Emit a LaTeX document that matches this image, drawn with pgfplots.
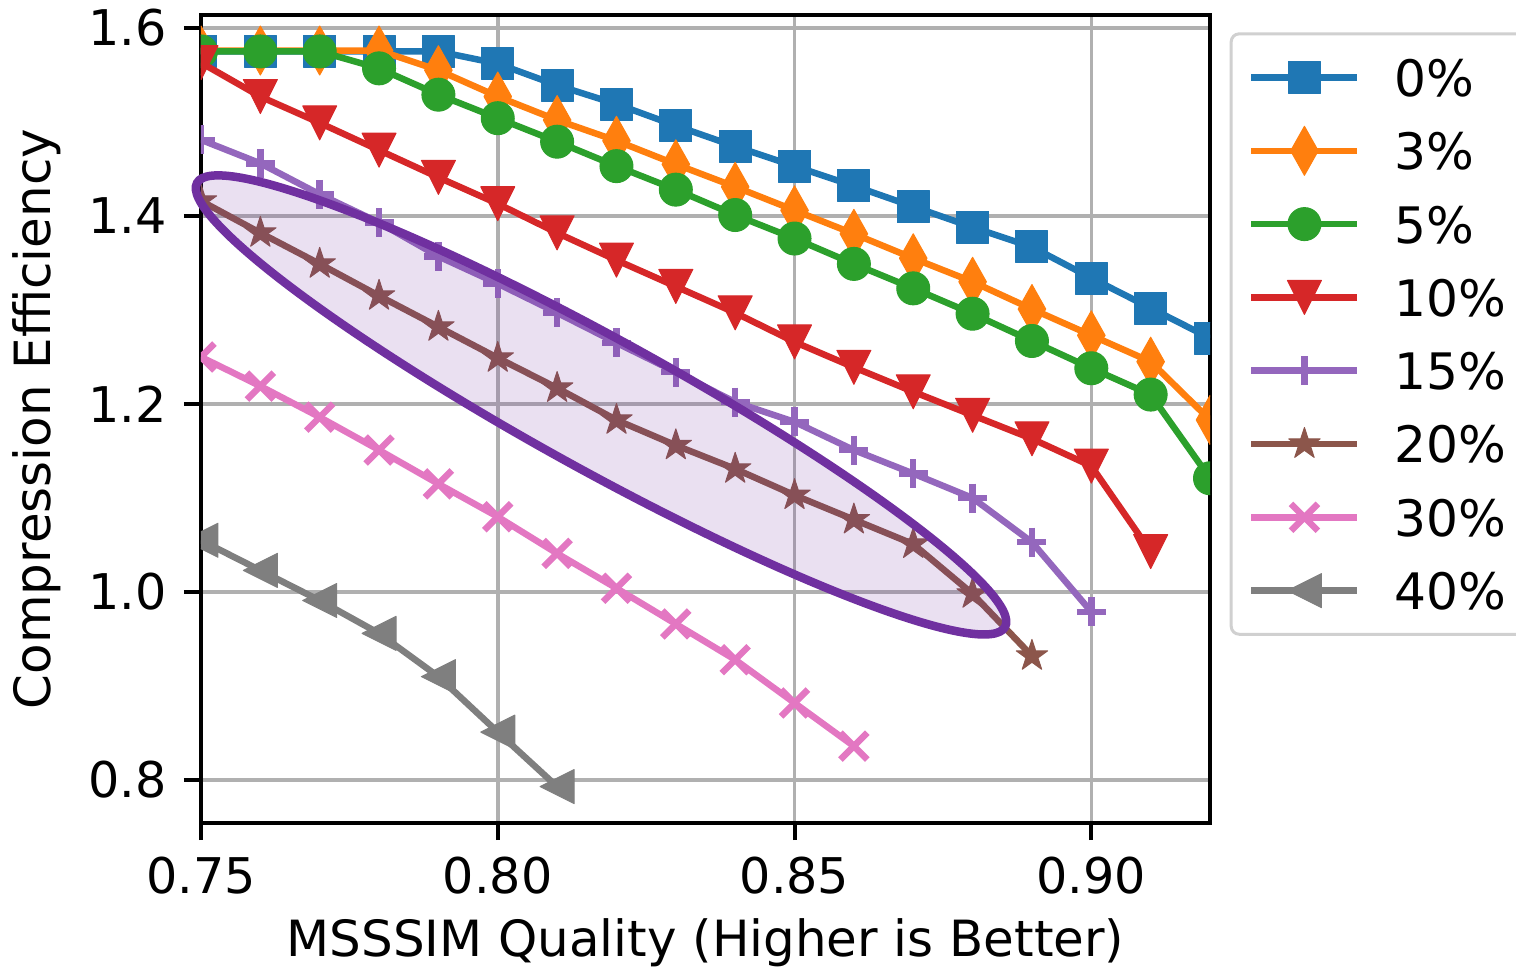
\documentclass[border=0pt]{standalone}
\usepackage{fontspec}
\setmainfont{DejaVu Sans}
\usepackage{pgfplots}
\pgfplotsset{compat=1.18}
\usetikzlibrary{plotmarks}

\definecolor{c0}{HTML}{1F77B4}
\definecolor{c1}{HTML}{FF7F0E}
\definecolor{c2}{HTML}{2CA02C}
\definecolor{c3}{HTML}{D62728}
\definecolor{c4}{HTML}{9467BD}
\definecolor{c5}{HTML}{8C564B}
\definecolor{c6}{HTML}{E377C2}
\definecolor{c7}{HTML}{7F7F7F}
\definecolor{gridgray}{HTML}{B0B0B0}
\definecolor{legframe}{HTML}{D0D0D0}
\definecolor{ellc}{HTML}{7030A0}

% matplotlib-like triangle, centred on its bounding box
\pgfdeclareplotmark{mtri}{%
  \pgfpathmoveto{\pgfqpoint{0pt}{\pgfplotmarksize}}%
  \pgfpathlineto{\pgfqpoint{-\pgfplotmarksize}{-\pgfplotmarksize}}%
  \pgfpathlineto{\pgfqpoint{\pgfplotmarksize}{-\pgfplotmarksize}}%
  \pgfpathclose
  \pgfusepathqfillstroke}
% filled five-point star
\pgfdeclareplotmark{fstar}{%
  \pgfpathmoveto{\pgfpointpolar{90}{\pgfplotmarksize}}%
  \pgfpathlineto{\pgfpointpolar{126}{0.382\pgfplotmarksize}}%
  \pgfpathlineto{\pgfpointpolar{162}{\pgfplotmarksize}}%
  \pgfpathlineto{\pgfpointpolar{198}{0.382\pgfplotmarksize}}%
  \pgfpathlineto{\pgfpointpolar{234}{\pgfplotmarksize}}%
  \pgfpathlineto{\pgfpointpolar{270}{0.382\pgfplotmarksize}}%
  \pgfpathlineto{\pgfpointpolar{306}{\pgfplotmarksize}}%
  \pgfpathlineto{\pgfpointpolar{342}{0.382\pgfplotmarksize}}%
  \pgfpathlineto{\pgfpointpolar{18}{\pgfplotmarksize}}%
  \pgfpathlineto{\pgfpointpolar{54}{0.382\pgfplotmarksize}}%
  \pgfpathclose
  \pgfusepathqfillstroke}

\begin{document}
\begin{tikzpicture}
\begin{axis}[
  at={(0,0)}, anchor=south west,
  scale only axis, width=10.09cm, height=8.08cm,
  xmin=0.75, xmax=0.92, ymin=0.7543, ymax=1.6138,
  xtick={0.75,0.80,0.85,0.90}, ytick={0.8,1.0,1.2,1.4,1.6},
  minor tick num=0,
  tick align=outside, tick pos=left, major tick length=0.17cm,
  tick style={black, line width=0.04cm},
  axis line style={black, line width=0.04cm},
  grid=major, major grid style={color=gridgray, line width=0.035cm},
  clip marker paths=true,
  ticklabel style={font=\fontsize{14}{17}\selectfont},
  label style={font=\fontsize{14.2}{17}\selectfont},
  /pgf/number format/assume math mode=true,
  xticklabel style={yshift=-0.05cm, /pgf/number format/.cd, fixed, fixed zerofill, precision=2},
  yticklabel style={xshift=-0.05cm, /pgf/number format/.cd, fixed, fixed zerofill, precision=1},
  xlabel={MSSSIM Quality (Higher is Better)},
  ylabel={Compression Efficiency},
  xlabel style={at={(axis description cs:0.5,-0.1655)}, anchor=base},
  ylabel style={at={(axis description cs:-0.163,0.5)}, anchor=center},
  every axis plot/.append style={line width=0.065cm, line join=round},
  legend style={
    at={(axis description cs:1.0195,0.9785)}, anchor=north west,
    draw=legframe, line width=0.03cm, rounded corners=0.08cm, fill=white,
    inner xsep=0.17cm, inner ysep=0.07cm,
    column sep=0.34cm, row sep=0pt,
    font=\fontsize{14.3}{17}\selectfont,
    nodes={inner sep=0pt, text height=0.556cm, text depth=0.177cm,
           text width=1.5cm, align=left},
  },
  legend image code/.code={%
    \draw[sharp corners, mark repeat=2, mark phase=2]
      plot coordinates {(0cm,0cm) (0.53cm,0cm) (1.06cm,0cm)};},
]
\addplot[c0, mark=square*, mark size=0.16cm, mark options={line width=0.01cm}] coordinates {
  (0.75,1.575)(0.76,1.575)(0.77,1.575)(0.78,1.575)(0.79,1.575)(0.80,1.562)
  (0.81,1.539)(0.82,1.519)(0.83,1.496)(0.84,1.474)(0.85,1.453)(0.86,1.432)
  (0.87,1.410)(0.88,1.388)(0.89,1.367)(0.90,1.334)(0.91,1.302)(0.92,1.270)};
\addlegendentry{0\%}
\addplot[c1, mark=diamond*, mark size=0.245cm, mark options={xscale=0.75, line width=0.01cm}] coordinates {
  (0.75,1.576)(0.76,1.576)(0.77,1.576)(0.78,1.576)(0.79,1.555)(0.80,1.527)
  (0.81,1.502)(0.82,1.480)(0.83,1.455)(0.84,1.431)(0.85,1.406)(0.86,1.381)
  (0.87,1.355)(0.88,1.330)(0.89,1.301)(0.90,1.273)(0.91,1.245)(0.92,1.183)};
\addlegendentry{3\%}
\addplot[c2, mark=*, mark size=0.165cm, mark options={line width=0.01cm}] coordinates {
  (0.75,1.575)(0.76,1.575)(0.77,1.575)(0.78,1.557)(0.79,1.529)(0.80,1.504)
  (0.81,1.479)(0.82,1.453)(0.83,1.428)(0.84,1.401)(0.85,1.376)(0.86,1.349)
  (0.87,1.323)(0.88,1.296)(0.89,1.267)(0.90,1.238)(0.91,1.210)(0.92,1.121)};
\addlegendentry{5\%}
\addplot[c3, mark=mtri, mark size=0.17cm, mark options={rotate=180, line width=0.01cm}] coordinates {
  (0.75,1.563)(0.76,1.527)(0.77,1.499)(0.78,1.470)(0.79,1.441)(0.80,1.413)
  (0.81,1.382)(0.82,1.353)(0.83,1.325)(0.84,1.297)(0.85,1.266)(0.86,1.239)
  (0.87,1.213)(0.88,1.188)(0.89,1.163)(0.90,1.134)(0.91,1.043)};
\addlegendentry{10\%}
\addplot[c4, mark=+, mark size=0.145cm, mark options={line width=0.065cm}] coordinates {
  (0.75,1.481)(0.76,1.456)(0.77,1.423)(0.78,1.393)(0.79,1.357)(0.80,1.328)
  (0.81,1.297)(0.82,1.265)(0.83,1.234)(0.84,1.202)(0.85,1.181)(0.86,1.151)
  (0.87,1.126)(0.88,1.100)(0.89,1.053)(0.90,0.979)};
\addlegendentry{15\%}
\addplot[c5, mark=fstar, mark size=0.165cm, mark options={line width=0.01cm}] coordinates {
  (0.75,1.416)(0.76,1.382)(0.77,1.349)(0.78,1.315)(0.79,1.282)(0.80,1.249)
  (0.81,1.217)(0.82,1.183)(0.83,1.156)(0.84,1.131)(0.85,1.103)(0.86,1.077)
  (0.87,1.051)(0.88,0.998)(0.89,0.932)};
\addlegendentry{20\%}
\addplot[c6, mark=x, mark size=0.19cm, mark options={line width=0.065cm}] coordinates {
  (0.75,1.250)(0.76,1.219)(0.77,1.186)(0.78,1.151)(0.79,1.115)(0.80,1.080)
  (0.81,1.041)(0.82,1.004)(0.83,0.966)(0.84,0.928)(0.85,0.882)(0.86,0.836)};
\addlegendentry{30\%}
\addplot[c7, mark=mtri, mark size=0.17cm, mark options={rotate=90, line width=0.01cm}] coordinates {
  (0.75,1.055)(0.76,1.023)(0.77,0.991)(0.78,0.956)(0.79,0.910)(0.80,0.851)
  (0.81,0.793)};
\addlegendentry{40\%}
\coordinate (ec) at (axis cs:0.8174,1.199);
\end{axis}
% highlight ellipse round the 20% curve
\draw[ellc, line width=0.085cm, fill=ellc, fill opacity=0.15, shift={(ec)}, rotate=-28.8]
  (0,0) ellipse [x radius=4.61cm, y radius=0.66cm];
\pgfresetboundingbox
\path[use as bounding box] (-2.01,-1.53) rectangle (13.15,8.23);
\end{tikzpicture}
\end{document}
